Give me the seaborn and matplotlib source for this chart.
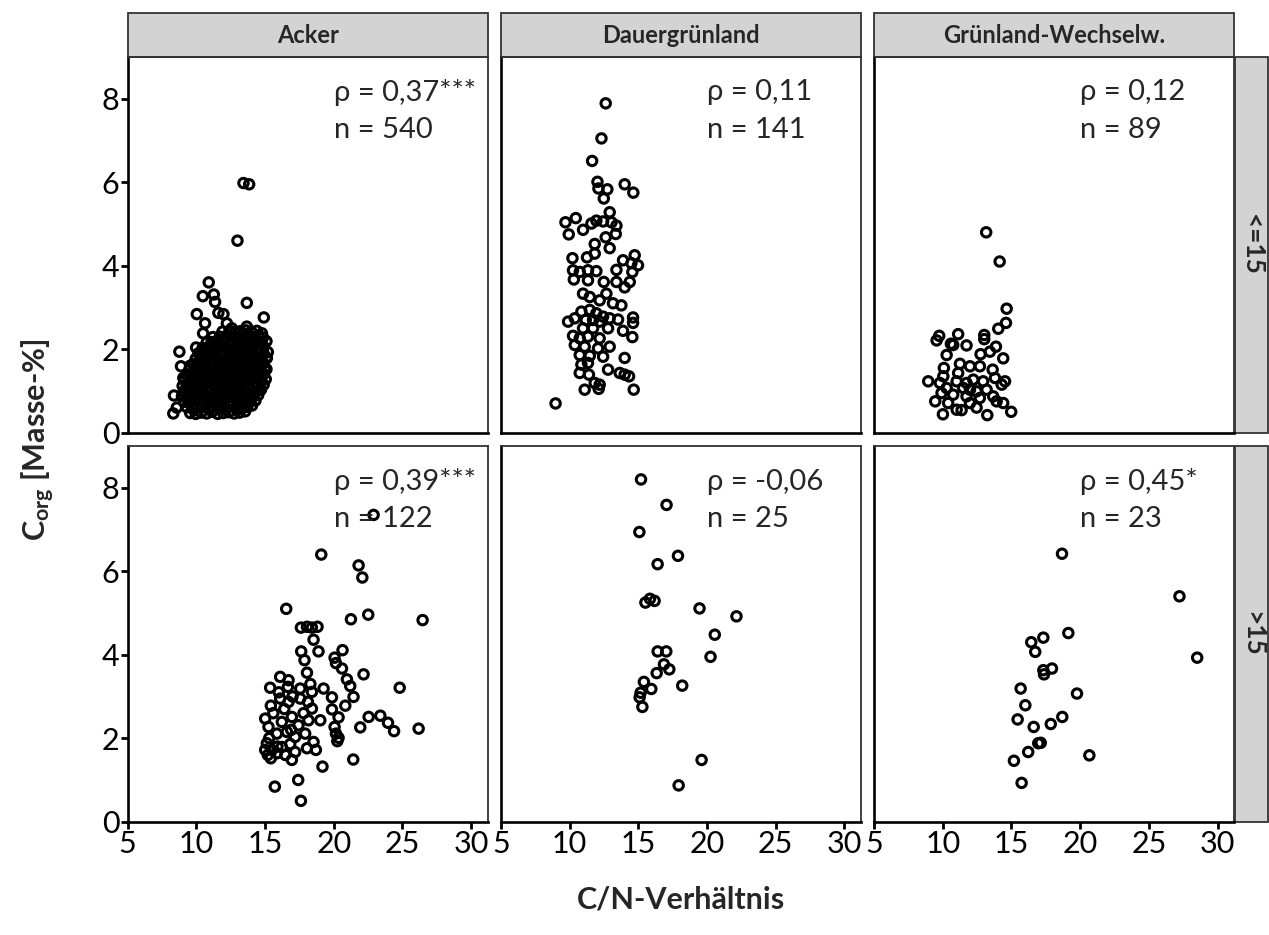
# Import everything ---------------------------------------------------------------------
import pandas as pd
import matplotlib.pyplot as plt
import seaborn as sns
from matplotlib.patches import Rectangle
# END-------------------------------------------------------------------------------------


# DATA ----------------------------------------------------------------------------------
nutzung = ['Acker', 'Dauergrünland', 'Grünland-Wechselw.']
klassen = ['<=15', '>15']

rho_text = [['ρ = 0,37***', 'ρ = 0,11', 'ρ = 0,12'],
            ['ρ = 0,39***', 'ρ = -0,06', 'ρ = 0,45*']]
n_text = [[540, 141, 89],
          [122, 25, 23]]

x_ticks = [5, 10, 15, 20, 25, 30]
y_ticks = [0, 2, 4, 6, 8]

# Acker, C/N <= 15 (dense cloud read row by row, then the loose points)
acker_lo_x = [
    9.55, 9.95, 10.35, 10.75, 11.15, 11.55, 11.95, 12.35, 12.75, 13.15, 13.55,
    9.3, 9.7, 10.1, 10.5, 10.9, 11.3, 11.7, 12.1, 12.5, 12.9, 13.3, 13.7, 14.05,
    9.1, 9.5, 9.9, 10.3, 10.7, 11.1, 11.5, 11.9, 12.3, 12.7, 13.1, 13.5, 13.9, 14.3,
    8.95, 9.3, 9.7, 10.1, 10.5, 10.9, 11.3, 11.7, 12.1, 12.5, 12.9, 13.3, 13.7, 14.1, 14.5,
    9.1, 9.5, 9.9, 10.3, 10.7, 11.1, 11.5, 11.9, 12.3, 12.7, 13.1, 13.5, 13.9, 14.3, 14.7,
    9.0, 9.3, 9.7, 10.1, 10.5, 10.9, 11.3, 11.7, 12.1, 12.5, 12.9, 13.3, 13.7, 14.1, 14.5, 14.9,
    9.15, 9.5, 9.9, 10.3, 10.7, 11.1, 11.5, 11.9, 12.3, 12.7, 13.1, 13.5, 13.9, 14.3, 14.7, 15.05,
    9.3, 9.7, 10.1, 10.5, 10.9, 11.3, 11.7, 12.1, 12.5, 12.9, 13.3, 13.7, 14.1, 14.5, 14.9,
    9.5, 9.9, 10.3, 10.7, 11.1, 11.5, 11.9, 12.3, 12.7, 13.1, 13.5, 13.9, 14.3, 14.7, 15.1,
    9.75, 10.1, 10.5, 10.9, 11.3, 11.7, 12.1, 12.5, 12.9, 13.3, 13.7, 14.1, 14.5, 14.9,
    9.95, 10.3, 10.7, 11.1, 11.5, 11.9, 12.3, 12.7, 13.1, 13.5, 13.9, 14.3, 14.7, 15.1,
    10.15, 10.5, 10.9, 11.3, 11.7, 12.1, 12.5, 12.9, 13.3, 13.7, 14.1, 14.5, 14.9, 15.2,
    10.45, 10.9, 11.3, 11.7, 12.1, 12.5, 12.9, 13.3, 13.7, 14.1, 14.5, 14.9,
    10.75, 11.1, 11.5, 11.9, 12.3, 12.7, 13.1, 13.5, 13.9, 14.3, 14.7, 15.1,
    11.2, 11.7, 12.1, 12.5, 12.9, 13.3, 13.7, 14.1, 14.5, 14.85,
    11.9, 12.4, 12.8, 13.2, 13.6, 14.0, 14.4,
    13.43, 13.84, 12.99, 10.90, 10.47, 11.27, 11.36, 13.67, 10.03, 11.60,
    11.97, 14.91, 10.63, 12.22, 12.58, 13.67, 10.49, 14.77, 8.76, 9.98,
    8.88, 9.54, 9.05, 8.37, 8.32, 8.57, 15.13, 15.0, 14.64, 13.91,
]
acker_lo_y = [
    0.47, 0.45, 0.48, 0.46, 0.50, 0.45, 0.47, 0.49, 0.46, 0.48, 0.51,
    0.61, 0.58, 0.60, 0.62, 0.59, 0.61, 0.58, 0.60, 0.63, 0.59, 0.61, 0.62, 0.65,
    0.74, 0.72, 0.75, 0.71, 0.73, 0.74, 0.72, 0.75, 0.73, 0.71, 0.74, 0.73, 0.75, 0.77,
    0.87, 0.85, 0.86, 0.88, 0.84, 0.87, 0.86, 0.85, 0.88, 0.86, 0.84, 0.87, 0.86, 0.88, 0.90,
    0.99, 1.01, 0.98, 1.00, 0.99, 1.02, 0.98, 1.00, 1.01, 0.99, 0.98, 1.00, 1.02, 0.99, 1.03,
    1.12, 1.14, 1.11, 1.13, 1.12, 1.10, 1.14, 1.12, 1.11, 1.13, 1.12, 1.14, 1.11, 1.12, 1.13, 1.15,
    1.26, 1.24, 1.25, 1.27, 1.23, 1.25, 1.26, 1.24, 1.25, 1.27, 1.24, 1.26, 1.25, 1.23, 1.26, 1.28,
    1.38, 1.39, 1.37, 1.40, 1.38, 1.36, 1.39, 1.38, 1.40, 1.37, 1.38, 1.39, 1.37, 1.38, 1.40,
    1.52, 1.50, 1.51, 1.53, 1.49, 1.51, 1.52, 1.50, 1.51, 1.53, 1.50, 1.52, 1.51, 1.49, 1.52,
    1.64, 1.65, 1.63, 1.66, 1.64, 1.62, 1.65, 1.64, 1.63, 1.66, 1.64, 1.65, 1.63, 1.66,
    1.77, 1.78, 1.76, 1.79, 1.77, 1.75, 1.78, 1.77, 1.76, 1.79, 1.77, 1.78, 1.76, 1.79,
    1.90, 1.91, 1.89, 1.92, 1.90, 1.88, 1.91, 1.90, 1.89, 1.92, 1.90, 1.91, 1.89, 1.93,
    2.03, 2.04, 2.02, 2.05, 2.03, 2.01, 2.04, 2.03, 2.02, 2.05, 2.03, 2.06,
    2.16, 2.17, 2.15, 2.18, 2.16, 2.14, 2.17, 2.16, 2.15, 2.18, 2.16, 2.19,
    2.29, 2.30, 2.28, 2.31, 2.29, 2.27, 2.30, 2.29, 2.31, 2.28,
    2.42, 2.44, 2.41, 2.43, 2.45, 2.42, 2.44,
    5.98, 5.95, 4.60, 3.60, 3.27, 3.31, 3.13, 3.11, 2.84, 2.87,
    2.84, 2.76, 2.62, 2.62, 2.50, 2.54, 2.38, 2.38, 1.94, 2.04,
    1.59, 1.60, 1.31, 0.89, 0.46, 0.60, 1.79, 1.51, 1.03, 0.75,
]

# Dauergruenland, C/N <= 15
dauer_lo_x = [
    12.63, 12.32, 11.64, 12.03, 12.10, 12.75, 12.49, 14.01, 14.64, 12.92,
    9.70, 10.45, 9.94, 10.98, 11.59, 11.95, 12.44, 13.05, 13.41, 13.36,
    12.63, 11.83, 12.92, 11.83, 10.21, 11.27, 13.89, 14.74, 14.98, 14.50,
    14.57, 13.41, 10.25, 10.74, 11.34, 11.95, 10.31, 11.34, 12.49, 13.41,
    14.38, 14.01, 10.98, 11.47, 12.19, 12.68, 13.16, 13.77, 10.86, 11.47,
    11.95, 12.44, 9.89, 10.38, 11.18, 11.71, 12.19, 12.92, 13.53, 14.62,
    14.62, 10.98, 11.71, 12.80, 13.89, 10.25, 10.74, 11.34, 12.19, 14.57,
    10.38, 11.10, 12.07, 12.92, 10.74, 11.47, 12.44, 14.01, 10.86, 11.34,
    10.74, 11.41, 12.80, 13.65, 14.01, 14.33, 11.83, 12.19, 11.10, 12.12,
    14.67, 8.98,
]
dauer_lo_y = [
    7.89, 7.05, 6.51, 6.01, 5.85, 5.83, 5.61, 5.95, 5.75, 5.28,
    5.04, 5.14, 4.75, 4.86, 5.01, 5.08, 5.06, 5.04, 4.96, 4.76,
    4.68, 4.52, 4.42, 4.29, 4.18, 4.20, 4.13, 4.25, 4.01, 4.06,
    3.85, 3.90, 3.89, 3.85, 3.89, 3.87, 3.67, 3.65, 3.61, 3.61,
    3.61, 3.48, 3.33, 3.25, 3.17, 3.33, 3.10, 3.05, 2.90, 2.94,
    2.86, 2.78, 2.66, 2.74, 2.70, 2.70, 2.66, 2.74, 2.71, 2.76,
    2.63, 2.50, 2.50, 2.50, 2.44, 2.32, 2.26, 2.30, 2.26, 2.29,
    2.10, 2.06, 2.02, 2.06, 1.86, 1.84, 1.82, 1.79, 1.63, 1.67,
    1.43, 1.39, 1.51, 1.43, 1.39, 1.35, 1.19, 1.15, 1.03, 1.05,
    1.03, 0.70,
]

# Gruenland-Wechselwirtschaft, C/N <= 15
wechsel_lo_x = [
    13.16, 14.14, 14.65, 14.60, 14.04, 9.74, 9.55, 11.12, 10.59, 10.76,
    11.73, 13.02, 13.02, 13.87, 13.43, 10.28, 12.75, 14.40, 11.25, 11.98,
    10.08, 12.70, 13.63, 11.12, 10.04, 8.94, 9.79, 11.01, 11.73, 12.22,
    12.94, 13.80, 14.53, 14.29, 10.28, 11.49, 11.98, 12.46, 13.19, 9.91,
    10.76, 11.73, 12.70, 13.67, 9.45, 10.39, 11.98, 13.92, 14.40, 11.01,
    11.37, 12.46, 10.01, 13.24, 14.98,
]
wechsel_lo_y = [
    4.80, 4.10, 2.97, 2.63, 2.49, 2.32, 2.21, 2.36, 2.13, 2.10,
    2.09, 2.34, 2.24, 2.06, 1.94, 1.86, 1.88, 1.78, 1.65, 1.59,
    1.55, 1.59, 1.51, 1.43, 1.35, 1.23, 1.19, 1.23, 1.19, 1.27,
    1.23, 1.31, 1.23, 1.15, 1.07, 1.07, 1.03, 0.99, 1.03, 0.95,
    0.91, 0.87, 0.83, 0.87, 0.75, 0.71, 0.71, 0.75, 0.71, 0.55,
    0.54, 0.60, 0.44, 0.42, 0.50,
]

# Acker, C/N > 15
acker_hi_x = [
    19.09, 21.81, 22.08, 16.54, 21.25, 22.51, 26.47, 17.61, 18.05, 18.41,
    18.82, 18.53, 17.63, 18.89, 17.87, 20.06, 20.64, 20.16, 20.60, 18.05,
    22.17, 16.10, 16.71, 20.96, 21.20, 15.37, 16.66, 17.56, 18.41, 19.26,
    21.44, 24.80, 19.87, 16.10, 16.71, 17.56, 18.12, 20.84, 15.42, 18.41,
    19.87, 20.35, 22.54, 23.39, 23.95, 24.39, 26.18, 21.93, 19.02, 15.01,
    15.25, 16.22, 16.95, 17.43, 18.16, 20.06, 20.16, 20.35, 20.26, 15.86,
    16.59, 17.19, 17.92, 18.53, 15.13, 15.50, 15.01, 15.86, 16.47, 16.95,
    17.19, 16.22, 16.83, 18.05, 18.70, 15.42, 21.42, 19.18, 17.41, 15.71,
    17.61, 22.90, 15.30, 15.60, 16.00, 16.40, 17.00, 17.80, 18.30, 16.90,
    15.20, 15.90,
]
acker_hi_y = [
    6.40, 6.14, 5.85, 5.10, 4.85, 4.96, 4.83, 4.65, 4.67, 4.65,
    4.67, 4.36, 4.08, 4.08, 3.87, 3.93, 4.11, 3.80, 3.67, 3.57,
    3.53, 3.47, 3.39, 3.41, 3.25, 3.21, 3.23, 3.19, 3.11, 3.19,
    2.99, 3.21, 2.98, 2.95, 2.87, 2.95, 2.87, 2.78, 2.78, 2.71,
    2.69, 2.50, 2.51, 2.54, 2.37, 2.17, 2.23, 2.26, 2.43, 2.47,
    2.27, 2.39, 2.51, 2.31, 2.43, 2.27, 2.11, 2.01, 1.93, 2.11,
    2.15, 2.03, 2.11, 1.91, 1.88, 1.72, 1.72, 1.64, 1.60, 1.48,
    1.67, 1.79, 1.86, 1.76, 1.72, 1.52, 1.49, 1.32, 1.00, 0.84,
    0.50, 7.35, 2.00, 2.60, 3.10, 2.70, 3.00, 2.60, 3.30, 2.20,
    1.60, 1.80,
]

# Dauergruenland, C/N > 15
dauer_hi_x = [
    15.20, 17.06, 15.08, 17.89, 16.41, 15.52, 15.85, 16.19, 19.46, 22.15,
    20.57, 20.26, 16.41, 17.04, 16.87, 17.26, 16.34, 18.20, 15.41, 15.95,
    15.17, 15.10, 15.30, 19.61, 17.94,
]
dauer_hi_y = [
    8.20, 7.59, 6.94, 6.37, 6.17, 5.25, 5.34, 5.29, 5.11, 4.92,
    4.48, 3.95, 4.08, 4.08, 3.77, 3.65, 3.56, 3.26, 3.35, 3.18,
    3.09, 2.98, 2.75, 1.48, 0.87,
]

# Gruenland-Wechselwirtschaft, C/N > 15
wechsel_hi_x = [
    18.68, 27.23, 28.52, 19.14, 17.32, 16.44, 16.73, 17.95, 17.32, 17.37,
    15.67, 19.77, 16.01, 15.45, 18.70, 16.62, 17.86, 16.95, 17.13, 16.22,
    15.18, 20.67, 15.74,
]
wechsel_hi_y = [
    6.42, 5.40, 3.93, 4.52, 4.41, 4.30, 4.07, 3.67, 3.63, 3.53,
    3.19, 3.07, 2.79, 2.45, 2.51, 2.27, 2.34, 1.88, 1.89, 1.67,
    1.46, 1.59, 0.93,
]
# END data ------------------------------------------------------------------------------


# DATAFRAME -----------------------------------------------------------------------------
parts = [
    ('Acker', '<=15', acker_lo_x, acker_lo_y),
    ('Dauergrünland', '<=15', dauer_lo_x, dauer_lo_y),
    ('Grünland-Wechselw.', '<=15', wechsel_lo_x, wechsel_lo_y),
    ('Acker', '>15', acker_hi_x, acker_hi_y),
    ('Dauergrünland', '>15', dauer_hi_x, dauer_hi_y),
    ('Grünland-Wechselw.', '>15', wechsel_hi_x, wechsel_hi_y),
]
df = pd.concat([pd.DataFrame({'CN': xs, 'Corg': ys, 'Nutzung': nu, 'Klasse': kl})
                for nu, kl, xs, ys in parts], ignore_index=True)
# END -----------------------------------------------------------------------------------


# STYLE ---------------------------------------------------------------------------------
sns.set_style('white')
plt.rcParams['font.family'] = ['Lato', 'DejaVu Sans']
plt.rcParams['mathtext.fontset'] = 'custom'
plt.rcParams['mathtext.rm'] = 'Lato'
plt.rcParams['mathtext.bf'] = 'Lato:bold'
plt.rcParams['mathtext.it'] = 'Lato:italic'
# END -----------------------------------------------------------------------------------


# PLOT ----------------------------------------------------------------------------------
g = sns.relplot(data=df, x='CN', y='Corg', col='Nutzung', row='Klasse',
                col_order=nutzung, row_order=klassen, kind='scatter',
                facecolors='none', edgecolor='black', linewidth=2.2, s=46,
                height=3, aspect=1,
                facet_kws=dict(sharex=True, sharey=True, despine=False))
fig = g.figure
fig.set_size_inches(12.69, 9.35)
fig.set_dpi(100)
W, H = 1269, 935
fig.subplots_adjust(left=127.7 / W, right=1234 / W, top=1 - 57 / H, bottom=1 - 821.7 / H,
                    wspace=13.3 / 360, hspace=13.4 / 376)
g.set_titles('')
g.set_axis_labels('', '')

strip_grey = '#d3d3d3'
for r in range(2):
    for c in range(3):
        ax = g.axes[r, c]
        ax.set_xlim(5, 31.2)
        ax.set_ylim(0, 9)
        ax.set_xticks(x_ticks)
        ax.set_yticks(y_ticks)
        ax.tick_params(direction='out', length=5, width=2, color='black',
                       labelsize=22, pad=1, labelcolor='black')
        ax.tick_params(axis='both', which='both', left=(c == 0), labelleft=(c == 0),
                       bottom=(r == 1), labelbottom=(r == 1))
        for side in ['top', 'right']:
            ax.spines[side].set_color('#333333')
            ax.spines[side].set_linewidth(1.3)
        for side in ['left', 'bottom']:
            ax.spines[side].set_color('black')
            ax.spines[side].set_linewidth(1.9)

        # annotation text
        ax.text(20, 8.15, rho_text[r][c], fontsize=21, ha='left', va='center')
        ax.text(20, 7.25, f'n = {n_text[r][c]}', fontsize=21, ha='left', va='center')

        # facet strips
        if r == 0:
            ax.add_patch(Rectangle((0, 1.0), 1, 44 / 376, transform=ax.transAxes,
                                   facecolor=strip_grey, edgecolor='#333333',
                                   linewidth=1.3, clip_on=False))
            ax.text(0.5, 1 + 22 / 376, nutzung[c], transform=ax.transAxes,
                    ha='center', va='center', fontsize=17, fontweight='bold')
        if c == 2:
            ax.add_patch(Rectangle((1 + 1 / 360, 0), 33 / 360, 1, transform=ax.transAxes,
                                   facecolor=strip_grey, edgecolor='#333333',
                                   linewidth=1.3, clip_on=False))
            ax.text(1 + 18 / 360, 0.5, klassen[r], transform=ax.transAxes,
                    ha='center', va='center', fontsize=19, fontweight='bold',
                    rotation=-90)

# axis titles
fig.text((127.7 + 1234) / 2 / W, 1 - 900 / H, 'C/N-Verhältnis',
         ha='center', va='center', fontsize=22, fontweight='bold')
fig.text(38 / W, 1 - 440 / H, r'$\mathbf{C}_{\mathbf{org}}$ [Masse-%]',
         ha='center', va='center', fontsize=22, fontweight='bold', rotation=90)

fig.savefig('out.png', dpi=100)
# END PLOT ------------------------------------------------------------------------------
